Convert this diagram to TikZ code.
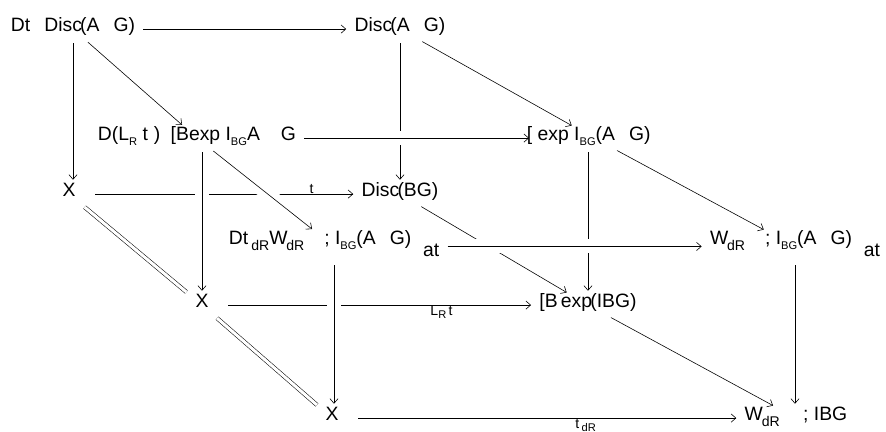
\documentclass[tikz,border=0pt]{standalone}
\usepackage{fontspec}
\setmainfont{Liberation Sans}
\usetikzlibrary{arrows.meta}
\usetikzlibrary{backgrounds}

\newcommand{\lo}[1]{\raisebox{-0.45ex}{\fontsize{9.5}{9.5}\selectfont #1}}
\newcommand{\dR}{\raisebox{-0.5ex}{\fontsize{12}{12}\selectfont dR}}
\newcommand{\gp}{\hspace{12pt}}

\begin{document}
\begin{tikzpicture}[x=0.03cm,y=-0.03cm,
    every node/.style={font=\fontsize{16.5}{19}\selectfont, inner sep=4pt, anchor=base, text height=0.75em, text depth=0.25em},
    pt/.style={minimum width=38pt},
    dn/.style={text depth=10pt},
    arr/.style={-{Straight Barb[length=4pt,width=7pt]}, line width=0.5pt, shorten <=3pt, shorten >=3pt},
    over/.style={preaction={draw,white,line width=12pt,-}},
    eq/.style={double, double distance=2.6pt, line width=0.45pt, shorten <=3pt, shorten >=3pt},
    lab/.style={font=\fontsize{12}{14}\selectfont, inner sep=0.5pt, text height=, text depth=}]
    \useasboundingbox (0,0) rectangle (886,432);

    \node (A1) at (73,32) {Dt\gp Disc\kern-1.5pt(A\gp G)};
    \node (B1) at (400,32) {Disc\kern-1.5pt(A\gp G)};
    \node (A2) at (197,141) {D(L\lo{R}\ t\hspace{5pt})\hspace{9pt}[Bexp\ I\lo{BG}A\hspace{18pt}G};
    \node (B2) at (594,141) {\hspace*{-9pt}[\ exp\ I\lo{BG}(A\gp G)};
    \node[pt] (X1) at (69,197) {X};
    \node (C1) at (400,197) {Disc\kern-1.5pt(BG)};
    \node[dn] (D1) at (334,245) {Dt\,\dR W\kern-1pt\dR\hspace{17pt}; I\lo{BG}(A\gp G)\hspace{10pt}\raisebox{-10pt}{at}};
    \node[dn] (D2) at (795,245) {W\kern-1pt\dR\hspace{17pt}; I\lo{BG}(A\gp G)\hspace{10pt}\raisebox{-10pt}{at}};
    \node[pt] (X2) at (202,308) {X};
    \node (E) at (588,308) {[B\,exp\kern-1.5pt(IBG)};
    \node[pt] (X3) at (332,421) {X};
    \node (F) at (796,421) {W\kern-1pt\dR\hspace{20pt}; IBG};

    \begin{scope}[on background layer]
    % edges passing underneath
    \draw[arr] (A1) -- (B1);
    \draw[arr] (A1) -- (A1 |- X1.north);
    \draw[arr] (A1) -- (A2);
    \draw[arr] (B1) -- (C1);
    \draw[arr] (B1) -- (B2);
    \draw[arr] (X1) -- (C1) node[lab, above, pos=0.83] {t};
    \draw[eq] (X1) -- (X2);
    \draw[arr] (C1) -- (E);
    \draw[arr] (B2) -- (D2);
    \draw[arr] (E |- B2.south) -- (E);
    \draw[arr] (X2) -- (E) node[lab, below, pos=0.7] {L\lo{R}\,t};
    \draw[eq] (X2) -- (X3);
    \draw[arr] (E) -- (F);
    \draw[arr] (D2) -- (D2 |- F.north);
    \draw[arr] (X3) -- (F) node[lab, below, pos=0.6] {t\,\lo{dR}};

    % edges crossing over
    \draw[arr, over] (A2) -- (B2);
    \draw[arr, over] (X2 |- A2.south) -- (X2);
    \draw[arr, over] (A2) -- (D1);
    \draw[arr, over] (D1) -- (D2);
    \draw[arr, over] (D1) -- (D1 |- X3.north);
    \end{scope}
\end{tikzpicture}
\end{document}
